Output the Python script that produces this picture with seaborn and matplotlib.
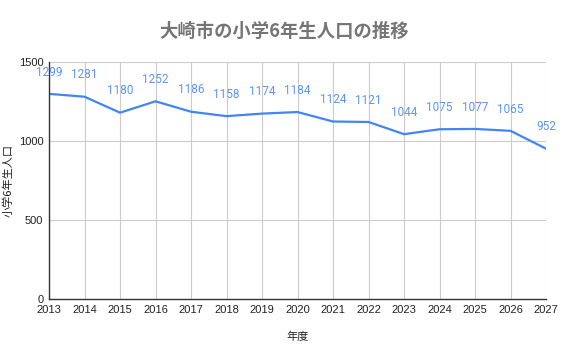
import matplotlib
matplotlib.use('Agg')
import matplotlib.pyplot as plt
import seaborn as sns
import pandas as pd

# data
years = [2013, 2014, 2015, 2016, 2017, 2018, 2019, 2020, 2021, 2022, 2023, 2024, 2025, 2026, 2027]
pupils = [1299, 1281, 1180, 1252, 1186, 1158, 1174, 1184, 1124, 1121, 1044, 1075, 1077, 1065, 952]
yticks = [0, 500, 1000, 1500]

df = pd.DataFrame({'year': years, 'pupils': pupils})

sns.set_style('white')
plt.rcParams['font.family'] = ['Liberation Sans', 'Noto Sans CJK JP', 'DejaVu Sans']

fig = plt.figure(figsize=(5.68, 3.51), dpi=100)
ax = fig.add_axes([0.0863, 0.148, 0.875, 0.675])

sns.lineplot(data=df, x='year', y='pupils', ax=ax, color='#4285f4', linewidth=1.6)

for x, y in zip(years, pupils):
    ax.annotate(str(y), (x, y), xytext=(0, 11), textcoords='offset points',
                ha='center', va='bottom', fontsize=8.5, color='#5b95f5',
                family=['Roboto', 'DejaVu Sans'])

ax.set_xlim(years[0], years[-1])
ax.set_ylim(0, 1500)
ax.set_xticks(years)
ax.set_yticks(yticks)
ax.tick_params(axis='both', labelsize=8, colors='#222222', length=0, pad=4)
ax.grid(True, color='#cccccc', linewidth=0.8)
for side in ['top', 'right']:
    ax.spines[side].set_visible(False)
for side in ['left', 'bottom']:
    ax.spines[side].set_color('#333333')
    ax.spines[side].set_linewidth(1)

ax.set_xlabel('年度', fontsize=8, color='#222222', labelpad=12,
              family=['Noto Sans CJK JP', 'DejaVu Sans'])
ax.set_ylabel('小学6年生人口', fontsize=8, color='#222222', labelpad=4,
              family=['Noto Sans CJK JP', 'DejaVu Sans'])
fig.text(0.5, 0.91, '大崎市の小学6年生人口の推移', ha='center', va='center',
         fontsize=13.2, color='#757575', fontweight='bold',
         family=['Noto Sans CJK JP', 'DejaVu Sans'])

fig.savefig('out.png', dpi=100)
